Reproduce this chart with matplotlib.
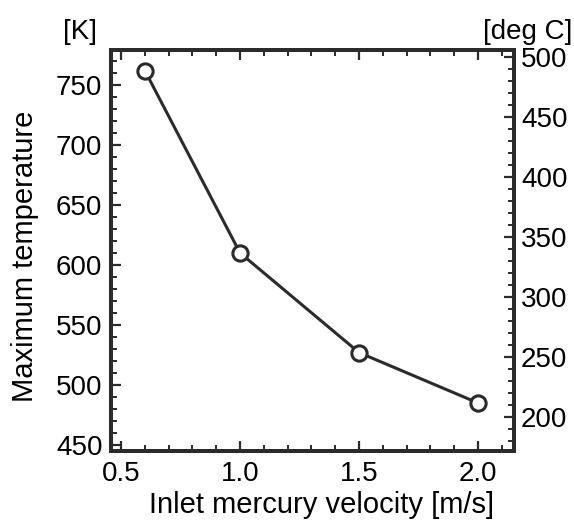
import numpy as np
import matplotlib.pyplot as plt
from matplotlib.ticker import MultipleLocator

# Inlet velocity [m/s] vs maximum temperature [K]
velocity = [0.6, 1.0, 1.5, 2.0]
max_temp_K = [762, 610, 527, 485]

plt.rcParams['font.family'] = ['Liberation Sans', 'DejaVu Sans']

fig = plt.figure(figsize=(5.74, 5.22), dpi=100)
ax = fig.add_axes([0.193, 0.136, 0.7025, 0.768])

ink = '#2b2b2b'
ax.plot(velocity, max_temp_K, color=ink, lw=2.2, marker='o', ms=11,
        mfc='white', mec=ink, mew=2.2, zorder=3)

ax.set_xlim(0.457, 2.151)
ax.set_ylim(445, 779)
ax.xaxis.set_major_locator(MultipleLocator(0.5))
ax.xaxis.set_minor_locator(MultipleLocator(0.1))
ax.yaxis.set_major_locator(MultipleLocator(50))
ax.yaxis.set_minor_locator(MultipleLocator(10))
ax.xaxis.set_major_formatter(plt.FormatStrFormatter('%.1f'))

tick_fs = 20
ax.tick_params(which='both', direction='in', top=True, right=False,
               color=ink, labelsize=tick_fs)
ax.tick_params(which='major', length=7, width=1.6)
ax.tick_params(which='minor', length=4, width=1.4)
ax.tick_params(axis='y', pad=6)
ax.tick_params(axis='x', pad=7)

for sp in ax.spines.values():
    sp.set_linewidth(2.8)
    sp.set_color(ink)

# right axis in deg C
ax2 = ax.twinx()
lo, hi = ax.get_ylim()
ax2.set_ylim(lo - 273.15, hi - 273.15)
ax2.yaxis.set_major_locator(MultipleLocator(50))
ax2.yaxis.set_minor_locator(MultipleLocator(10))
ax2.tick_params(which='both', direction='in', color=ink, labelsize=tick_fs, pad=5)
ax2.tick_params(which='major', length=7, width=1.6)
ax2.tick_params(which='minor', length=4, width=1.4)
for sp in ax2.spines.values():
    sp.set_linewidth(2.8)
    sp.set_color(ink)

fig.text(322 / 574, 1 - 505 / 522, 'Inlet mercury velocity [m/s]', fontsize=21,
         ha='center', va='center')
fig.text(25 / 574, 1 - 256 / 522, 'Maximum temperature', fontsize=21,
         ha='center', va='center', rotation=90)

fig.text(80 / 574, 1 - 32 / 522, '[K]', fontsize=20, ha='center', va='center')
fig.text(572 / 574, 1 - 32 / 522, '[deg C]', fontsize=20, ha='right', va='center')

fig.savefig('out.png', dpi=100)
